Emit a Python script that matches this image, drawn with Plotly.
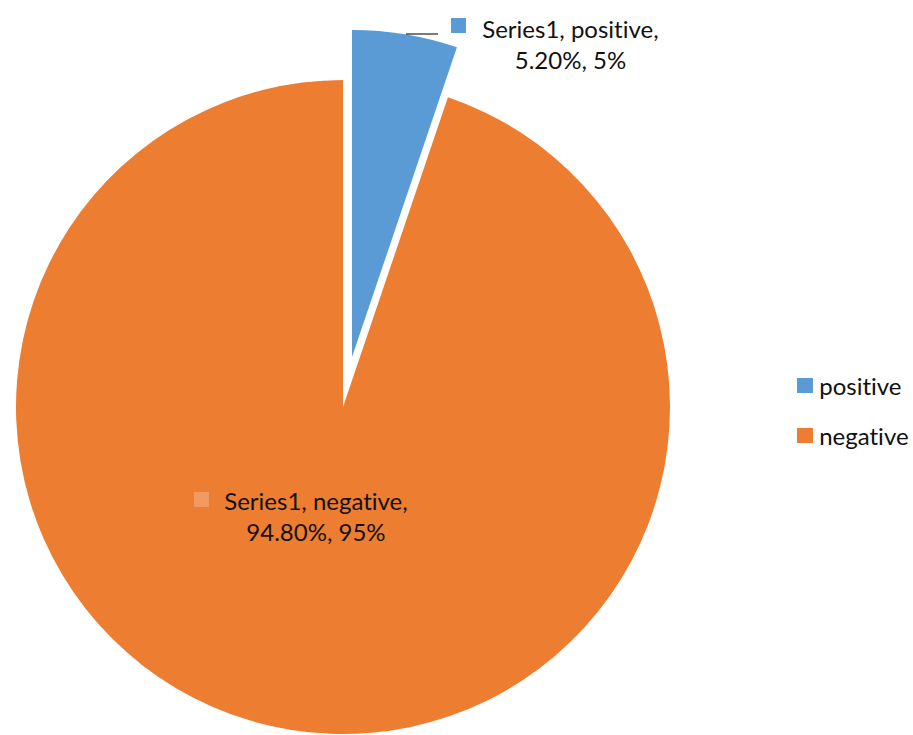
import plotly.graph_objects as go

# ---- data ----
series_name = "Series1"
labels = ["positive", "negative"]
values = [5.2, 94.8]
rounded_pct = ["5%", "95%"]
colors = ["#5B9BD5", "#ED7D31"]

W, H = 913, 735
FONT = "Lato"
TXT = "#111111"
FS = 24

def px_dom_x(a, b):
    return [a / W, b / W]

def px_dom_y(top, bottom):
    return [1 - bottom / H, 1 - top / H]

fig = go.Figure()

# main pie (negative slice), positive slice transparent
fig.add_trace(go.Pie(
    labels=labels, values=values, sort=False, direction="clockwise", rotation=0,
    marker=dict(colors=["rgba(0,0,0,0)", colors[1]], line=dict(color="white", width=0)),
    textinfo="none", hoverinfo="label+percent", showlegend=False,
    domain=dict(x=px_dom_x(16, 670), y=px_dom_y(80, 734)),
))
# exploded positive slice
fig.add_trace(go.Pie(
    labels=labels, values=values, sort=False, direction="clockwise", rotation=0,
    marker=dict(colors=[colors[0], "rgba(0,0,0,0)"], line=dict(color="white", width=0)),
    textinfo="none", hoverinfo="label+percent", showlegend=False,
    domain=dict(x=px_dom_x(25, 679), y=px_dom_y(30, 684)),
))

total = sum(values)
annotations = []
shapes = []

def xp(v):
    return v / W

def yp(v):
    return 1 - v / H

# data labels
label_specs = [
    (570, 44, (451, 18, 466, 33), colors[0]),
    (316, 516, (194, 492, 209, 507), "#F29A63"),
]
for i, (cx, cy, sq, kc) in enumerate(label_specs):
    pct = values[i] / total * 100
    txt = f"{series_name}, {labels[i]},<br>{pct:.2f}%, {rounded_pct[i]}"
    annotations.append(dict(
        x=xp(cx), y=yp(cy), xref="paper", yref="paper", text=txt, showarrow=False,
        xanchor="center", yanchor="middle", align="center",
        font=dict(family=FONT, size=FS, color=TXT),
    ))
    shapes.append(dict(type="rect", xref="paper", yref="paper",
                       x0=xp(sq[0]), x1=xp(sq[2]), y0=yp(sq[3]), y1=yp(sq[1]),
                       fillcolor=kc, line=dict(width=0)))

# leader line for positive label
shapes.append(dict(type="line", xref="paper", yref="paper",
                   x0=xp(406), x1=xp(438), y0=yp(34), y1=yp(34),
                   line=dict(color="#222222", width=1.2)))

# legend
legend_rows = [385, 435]
for i, ly in enumerate(legend_rows):
    shapes.append(dict(type="rect", xref="paper", yref="paper",
                       x0=xp(797), x1=xp(813), y0=yp(ly + 8), y1=yp(ly - 7),
                       fillcolor=colors[i], line=dict(width=0)))
    annotations.append(dict(
        x=xp(817), y=yp(ly), xref="paper", yref="paper", text=labels[i],
        showarrow=False, xanchor="left", yanchor="middle",
        font=dict(family=FONT, size=FS, color=TXT),
    ))

fig.update_layout(
    width=W, height=H,
    margin=dict(l=0, r=0, t=0, b=0),
    paper_bgcolor="white", plot_bgcolor="white",
    annotations=annotations, shapes=shapes,
    font=dict(family=FONT),
)

post = (
    "document.body.style.margin='0';"
    "var s=document.createElement('style');"
    "s.textContent='text{font-variant-ligatures:none;font-feature-settings:\"liga\" 0;}';"
    "document.head.appendChild(s);"
)
fig.write_html("out.html", post_script=post, config={"displayModeBar": False})
